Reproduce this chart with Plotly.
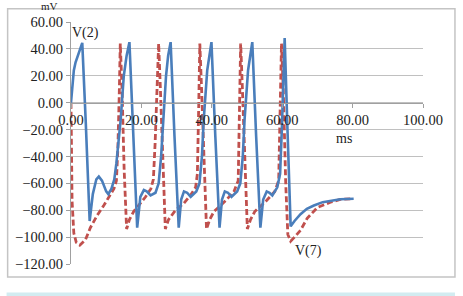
import plotly.graph_objects as go

# V(2) blue solid trace (ms, mV)
v2_t = [0, 0.4, 0.8, 1.3, 1.8, 2.6, 3.2, 4.2, 5.3, 6.2, 7.2, 7.9, 8.8, 10.0, 10.6, 11.5, 12.3, 12.9, 13.5, 14.1, 15.0, 15.8, 16.6,
        17.7, 18.8, 19.7, 20.7, 21.5, 22.6, 24.0, 24.9, 25.6, 26.2, 27.0, 27.6, 28.3,
        29.4, 30.6, 31.3, 32.1, 33.0, 34.0, 35.6, 36.5, 37.2, 37.7, 38.7, 39.3, 39.9,
        41.0, 42.2, 42.9, 43.7, 44.6, 45.6, 47.2, 48.1, 48.8, 49.3, 50.3, 50.9, 51.5,
        52.6, 53.8, 54.6, 55.6, 56.4, 57.2, 58.6, 59.4, 59.9, 60.3, 60.7,
        61.5, 62.4, 63.5, 65.2, 67.0, 69.0, 71.5, 73.7, 76.5, 80.3]
v2_mv = [0, 14, 24, 30, 34, 40, 44.5, -15, -88, -68, -57, -55, -58, -66, -68, -64, -57, -45, -30, -13, 20, 35, 45,
         -25, -93, -70, -65, -66, -69, -67, -60, -40, -10, 20, 35, 45,
         -25, -93, -72, -66, -67, -70, -66, -60, -40, -13, 24, 36, 45,
         -25, -93, -72, -66, -67, -70, -66, -60, -40, -13, 24, 36, 45,
         -25, -93, -72, -66, -67, -69, -63, -53, -20, 20, 48,
         -20, -92, -88, -83, -79, -76.5, -74, -72.8, -71.8, -71.5]

# V(7) red dashed trace (ms, mV)
v7_t = [0, 0.1, 0.3, 0.8, 1.5, 2.5, 4.1, 5.5, 7.4, 9.3, 11.0, 12.2, 12.9, 13.3, 13.7, 14.0,
        14.5, 15.1, 15.8, 16.6, 17.8, 19.3, 21.2, 22.7, 23.4, 23.9, 24.4, 24.9,
        25.4, 26.1, 26.8, 27.7, 29.7, 32.0, 33.9, 35.4, 35.9, 36.3, 36.6,
        37.1, 37.8, 38.5, 39.4, 40.6, 43.9, 46.3, 47.5, 47.9, 48.2,
        48.7, 49.4, 50.1, 51.0, 52.2, 55.5, 57.9, 59.0, 59.4, 59.8,
        60.3, 61.0, 61.6, 62.4, 63.5, 65.2, 67.1, 70.0, 73.7, 76.5, 79.4]
v7_mv = [0, -35, -73, -97, -104, -106, -102, -93, -84, -76.5, -69, -64, -58, -35, 5, 44,
         10, -50, -94, -87, -81, -76, -70, -64, -57, -30, 10, 44,
         10, -50, -94, -87, -80, -75, -69, -63, -53, 0, 44,
         10, -50, -94, -87, -81, -73, -66, -58, -10, 44,
         10, -50, -94, -87, -81, -73, -66, -58, -10, 44,
         10, -60, -98, -103, -100, -95, -86, -78, -74, -72, -71.5]

x_ticks = [0, 20, 40, 60, 80, 100]
y_ticks = [-120, -100, -80, -60, -40, -20, 0, 20, 40, 60]

SERIF = "Liberation Serif, Times New Roman, serif"
GRID = "#c0c0c0"

fig = go.Figure()
fig.add_trace(go.Scatter(x=v7_t, y=v7_mv, mode="lines", name="V(7)",
                         line=dict(color="#C0504D", width=2.8, dash="6px,3px")))
fig.add_trace(go.Scatter(x=v2_t, y=v2_mv, mode="lines", name="V(2)",
                         line=dict(color="#4A7EBB", width=2.6)))

fig.update_layout(
    width=463, height=296,
    margin=dict(l=70.5, r=40, t=22.3, b=32),
    paper_bgcolor="white", plot_bgcolor="white",
    showlegend=False,
    font=dict(family=SERIF, size=14.5, color="#222"),
    xaxis=dict(range=[0, 100], tickvals=x_ticks, tickformat=".2f",
               anchor="free", position=2/3, showgrid=False, zeroline=False,
               showline=True, linecolor="#a0a0a0", linewidth=1,
               ticks="outside", ticklen=4, tickcolor="#a0a0a0",
               tickfont=dict(family=SERIF, size=14.5, color="#222")),
    yaxis=dict(range=[-120, 60], tickvals=y_ticks, tickformat=".2f",
               showgrid=True, gridcolor=GRID, gridwidth=1, zeroline=False,
               showline=True, linecolor="#a0a0a0", linewidth=1,
               ticks="outside", ticklen=4, tickcolor="#a0a0a0",
               tickfont=dict(family=SERIF, size=14.5, color="#222")),
    shapes=[
        dict(type="rect", xref="paper", yref="paper", x0=-0.180, x1=1.0908, y0=-0.0538, y1=1.055,
             line=dict(color="#c4c4c4", width=1.5), fillcolor="rgba(0,0,0,0)", layer="below"),
        dict(type="rect", xref="paper", yref="paper", x0=-0.183, x1=1.0908, y0=-0.1324, y1=-0.118,
             line=dict(width=0), fillcolor="#d2ecf1", layer="below"),
    ],
    annotations=[
        dict(text="mV", xref="paper", yref="paper", x=(49 - 70.5) / 352.5, y=1, yshift=16,
             showarrow=False, font=dict(family=SERIF, size=11, color="#222"), xanchor="center", yanchor="middle"),
        dict(text="ms", xref="x", yref="y", x=77.5, y=0, yshift=-36,
             showarrow=False, font=dict(family=SERIF, size=14, color="#222"), xanchor="center", yanchor="middle"),
        dict(text="V(2)", xref="x", yref="y", x=4.0, y=52, showarrow=False,
             font=dict(family=SERIF, size=14, color="#222"), xanchor="center", yanchor="middle"),
        dict(text="V(7)", xref="x", yref="y", x=67.5, y=-110, showarrow=False,
             font=dict(family=SERIF, size=14, color="#222"), xanchor="center", yanchor="middle"),
    ],
)

fig.write_html("out.html")
